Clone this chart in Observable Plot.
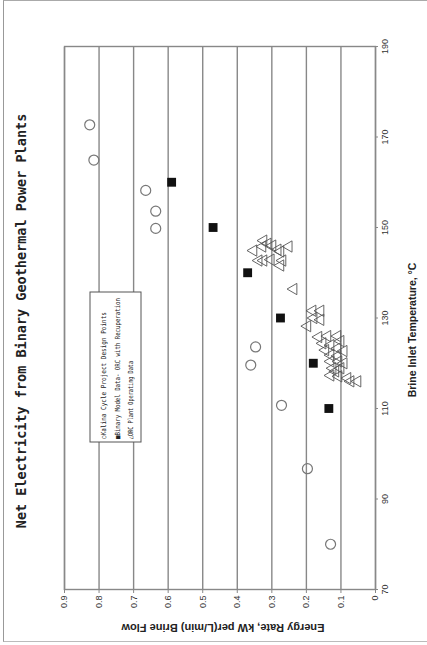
<!DOCTYPE html>
<html>
<head>
<meta charset="utf-8">
<script src="https://cdn.jsdelivr.net/npm/d3@7"></script>
<script src="https://cdn.jsdelivr.net/npm/@observablehq/plot@0.6"></script>
<style>
  html, body { margin: 0; padding: 0; background: #fff; width: 427px; height: 645px; overflow: hidden; }
  #page { position: absolute; left: 3px; top: 0; width: 424px; height: 642px;
          border-left: 1.5px solid #999; border-top: 1.5px solid #aaa; border-bottom: 1.5px solid #bbb; box-sizing: border-box; }
  #rot { position: absolute; left: 0; top: 0; width: 645px; height: 427px;
         transform-origin: 0 0; transform: translate(0px, 645px) rotate(-90deg); }
</style>
</head>
<body>
<div id="page"></div>
<div id="rot"></div>
<script>
// ---- data ----
const title = "Net Electricity from Binary Geothermal Power Plants";
const xLabel = "Brine Inlet Temperature, °C";
const yLabel = "Energy Rate, kW per(L/min) Brine Flow";
const xTicks = [70, 90, 110, 130, 150, 170, 190];
const yTicks = [0, 0.1, 0.2, 0.3, 0.4, 0.5, 0.6, 0.7, 0.8, 0.9];
const legendLabels = ["○Kalina Cycle Project Design Points", "■Binary Model Data- ORC with Recuperation", "△ORC Plant Operating Data"];

const kalinaTemp = [172.7, 164.9, 158.2, 153.6, 149.8, 123.6, 119.6, 110.7, 96.7, 80];
const kalinaRate = [0.827, 0.815, 0.665, 0.636, 0.636, 0.347, 0.361, 0.272, 0.197, 0.130];

const binaryTemp = [160, 150, 140, 130, 120, 110];
const binaryRate = [0.59, 0.47, 0.37, 0.275, 0.18, 0.135];

const orcTemp = [147.1, 146.4, 144.9, 145.8, 146.0, 145.1, 145.8, 144.7, 142.7, 142.7, 142.9, 142.7, 141.6, 136.4,
                 131.6, 131.6, 130.0, 129.6, 128.2,
                 125.8, 126.0, 126.0, 124.4, 124.0, 124.9, 122.9, 123.3, 122.7, 121.8, 121.6, 120.4, 120.4, 120.0,
                 118.9, 118.9, 117.3, 117.1, 116.7, 116.0, 116.0, 118.2];
const orcRate = [0.324, 0.312, 0.353, 0.327, 0.298, 0.283, 0.251, 0.275, 0.338, 0.324, 0.303, 0.269, 0.275, 0.237,
                 0.182, 0.159, 0.179, 0.159, 0.197,
                 0.165, 0.139, 0.110, 0.153, 0.130, 0.101, 0.145, 0.110, 0.092, 0.130, 0.110, 0.130, 0.107, 0.092,
                 0.124, 0.101, 0.130, 0.107, 0.081, 0.072, 0.052, 0.116];

const kalina = kalinaTemp.map((t, i) => ({t, r: kalinaRate[i]}));
const binary = binaryTemp.map((t, i) => ({t, r: binaryRate[i]}));
const orc = orcTemp.map((t, i) => ({t, r: orcRate[i]}));

const sans = "Liberation Sans, Arial, sans-serif";
const narrow = "Liberation Sans Narrow, Liberation Sans, Arial, sans-serif";
const mono = "DejaVu Sans Mono, monospace";

const chart = Plot.plot({
  width: 645,
  height: 427,
  marginLeft: 55,
  marginRight: 47,
  marginTop: 64,
  marginBottom: 52,
  style: {fontFamily: sans, fontSize: "9px", color: "#333", background: "transparent"},
  x: {domain: [70, 190]},
  y: {domain: [0, 0.9]},
  marks: [
    Plot.gridY(yTicks, {stroke: "#888", strokeOpacity: 1, strokeWidth: 1.4}),
    Plot.frame({stroke: "#888", strokeWidth: 1.4}),
    Plot.axisX({ticks: xTicks, tickSize: 3, tickPadding: 3, label: null, stroke: "#888", fontSize: 9}),
    Plot.axisY({ticks: yTicks, tickSize: 3, tickPadding: 3, label: null, stroke: "#888", fontSize: 9,
                tickFormat: d => d === 0 ? "0" : d.toFixed(1)}),
    Plot.dot(orc, {x: "t", y: "r", symbol: "triangle", r: 4.2, stroke: "#555", strokeWidth: 0.9, fill: "none"}),
    Plot.dot(kalina, {x: "t", y: "r", symbol: "circle", r: 5, stroke: "#777", strokeWidth: 1.2, fill: "none"}),
    Plot.dot(binary, {x: "t", y: "r", symbol: "square", r: 5, fill: "#111", stroke: "none"}),
    Plot.text([title], {text: d => d, frameAnchor: "top", dy: -48, dx: -3, fontFamily: mono, fontSize: 13.5,
                        fontWeight: "bold", fill: "#222"}),
    Plot.text([xLabel], {text: d => d, frameAnchor: "bottom", dy: 40, dx: -12, fontFamily: narrow, fontSize: 10.5,
                         fontWeight: "bold", fill: "#222"}),
    Plot.text([yLabel], {text: d => d, frameAnchor: "left", textAnchor: "middle", dx: -38, dy: 3, rotate: -90,
                         fontFamily: narrow, fontSize: 11, fontWeight: "bold", fill: "#222"})
  ]
});

document.getElementById("rot").appendChild(chart);

// legend box (white, covering grid lines)
const legendLengths = [127, 141, 78];
const svg = d3.select(chart);
const lg = svg.append("g").attr("class", "legend").attr("text-anchor", "start");
lg.append("rect").attr("x", 203).attr("y", 90).attr("width", 150).attr("height", 51)
  .attr("fill", "#fff").attr("stroke", "#555").attr("stroke-width", 1);
lg.selectAll("text").data(legendLabels).join("text")
  .attr("x", 206)
  .attr("y", (d, i) => 106 + i * 13.5)
  .attr("text-anchor", "start")
  .attr("font-family", mono)
  .attr("font-size", 7)
  .attr("textLength", (d, i) => legendLengths[i])
  .attr("lengthAdjust", "spacingAndGlyphs")
  .attr("fill", "#222")
  .text(d => d);
</script>
</body>
</html>
